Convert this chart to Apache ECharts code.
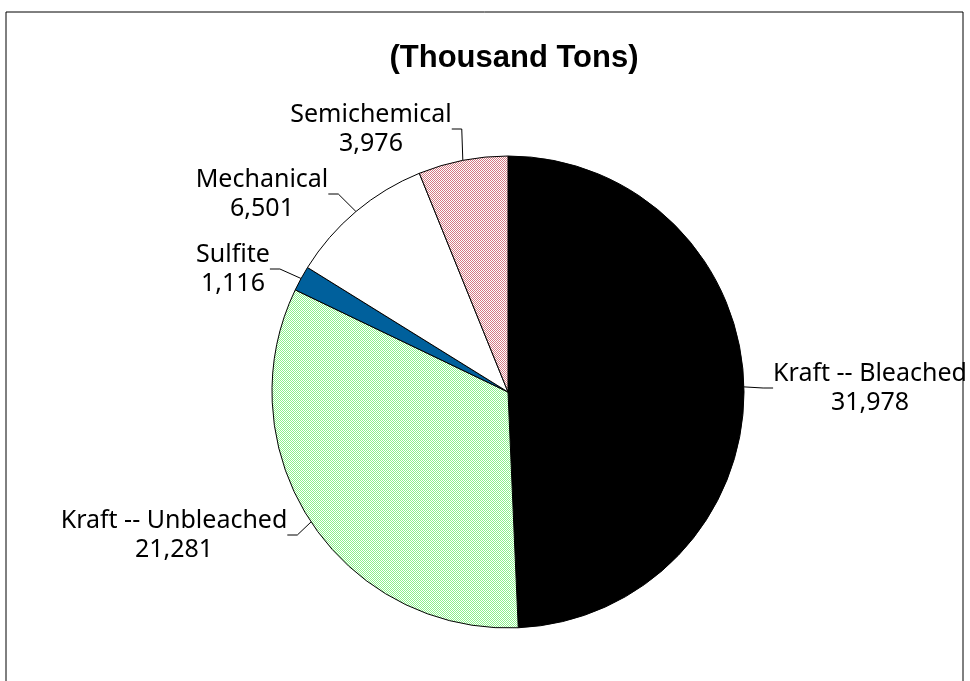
<!DOCTYPE html>
<html>
<head>
<meta charset="utf-8">
<style>
  html, body { margin: 0; padding: 0; background: #fff; }
  #chart { width: 970px; height: 681px; }
</style>
<script src="https://cdn.jsdelivr.net/npm/echarts@6/dist/echarts.min.js"></script>
</head>
<body>
<div id="chart"></div>
<script>
const categories = ['Kraft -- Bleached', 'Kraft -- Unbleached', 'Sulfite', 'Mechanical', 'Semichemical']
const values = [31978, 21281, 1116, 6501, 3976]

// label centres, same order as categories
const labelSpots = [[870, 388], [174, 535], [233, 269], [262, 194], [371, 129]]

// small diagonal hatch tile
const hatch = (line, size) => {
  const c = document.createElement('canvas')
  c.width = size
  c.height = size
  const g = c.getContext('2d')
  g.fillStyle = '#fff'
  g.fillRect(0, 0, size, size)
  g.strokeStyle = line
  g.lineWidth = 1
  g.beginPath()
  for (let k = -size; k <= size * 2; k += 2) {
    g.moveTo(k, 0)
    g.lineTo(k + size, size)
  }
  g.stroke()
  return { image: c, repeat: 'repeat' }
}

const sliceColors = [
  '#000000',
  hatch('#8cf28c', 12),
  '#00609c',
  '#ffffff',
  hatch('#d47a84', 12)
]

const myChart = echarts.init(document.getElementById('chart'))

myChart.setOption({
  animation: false,
  graphic: [{
    type: 'rect',
    shape: { x: 6, y: 12, width: 957, height: 720 },
    style: { fill: 'none', stroke: '#000', lineWidth: 1 },
    silent: true
  }, {
    type: 'text',
    x: 514,
    y: 58,
    style: {
      text: '(Thousand Tons)',
      align: 'center',
      verticalAlign: 'middle',
      fontFamily: 'Liberation Sans',
      fontWeight: 'bold',
      fontSize: 31,
      fill: '#000'
    },
    silent: true
  }],
  series: [{
    type: 'pie',
    center: [508, 392],
    radius: 236,
    startAngle: 90,
    clockwise: true,
    data: categories.map((name, i) => ({
      name,
      value: values[i],
      itemStyle: { color: sliceColors[i] }
    })),
    itemStyle: {
      borderColor: '#000',
      borderWidth: 1
    },
    label: {
      show: true,
      position: 'outside',
      formatter: p => p.name + '\n' + p.value.toLocaleString('en-US'),
      fontFamily: 'Noto Sans',
      fontSize: 25,
      lineHeight: 29,
      color: '#000',
      align: 'center',
      overflow: 'none'
    },
    labelLine: {
      show: true,
      length: 15,
      length2: 10,
      lineStyle: { color: '#000', width: 1 }
    },
    labelLayout: params => ({
      x: labelSpots[params.dataIndex][0],
      y: labelSpots[params.dataIndex][1],
      align: 'center',
      verticalAlign: 'middle'
    })
  }]
})
</script>
</body>
</html>
